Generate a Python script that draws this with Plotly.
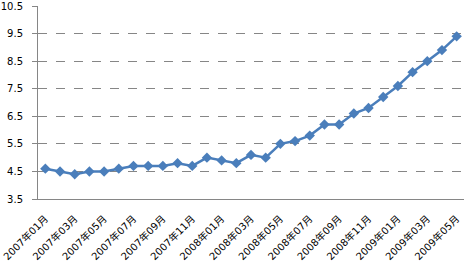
import plotly.graph_objects as go

months = ["2007年01月","2007年02月","2007年03月","2007年04月","2007年05月","2007年06月",
          "2007年07月","2007年08月","2007年09月","2007年10月","2007年11月","2007年12月",
          "2008年01月","2008年02月","2008年03月","2008年04月","2008年05月","2008年06月",
          "2008年07月","2008年08月","2008年09月","2008年10月","2008年11月","2008年12月",
          "2009年01月","2009年02月","2009年03月","2009年04月","2009年05月"]
values = [4.6,4.5,4.4,4.5,4.5,4.6,4.7,4.7,4.7,4.8,4.7,5.0,
          4.9,4.8,5.1,5.0,5.5,5.6,5.8,6.2,6.2,6.6,6.8,7.2,
          7.6,8.1,8.5,8.9,9.4]
y_ticks = [3.5, 4.5, 5.5, 6.5, 7.5, 8.5, 9.5, 10.5]
label_months = months[::2]
boundary_vals = [i - 0.5 for i in range(0, len(months), 2)] + [len(months) - 0.5]

font = dict(family="DejaVu Sans, Noto Sans CJK SC", size=10, color="#000000")

fig = go.Figure()
fig.add_trace(go.Scatter(
    x=months, y=values, mode="lines+markers",
    line=dict(color="#4A7EBB", width=2.5),
    marker=dict(symbol="diamond", size=8, color="#4A7EBB"),
    showlegend=False, cliponaxis=False,
))
fig.update_layout(
    width=465, height=262,
    margin=dict(l=38, r=1, t=6, b=63, autoexpand=False),
    paper_bgcolor="white", plot_bgcolor="white",
    font=font,
    xaxis=dict(type="category", categoryorder="array", categoryarray=months,
               range=[-0.5, len(months) - 0.5], automargin=False,
               tickmode="array", tickvals=label_months, ticktext=label_months,
               tickangle=-45, ticks="", showgrid=False, ticklabelstandoff=9,
               ticklabeloverflow="allow",
               showline=True, linecolor="#868686", linewidth=1, tickfont=font),
    xaxis2=dict(overlaying="x", anchor="y", type="linear",
                range=[-0.5, len(months) - 0.5], automargin=False,
                tickmode="array", tickvals=boundary_vals,
                ticks="outside", ticklen=5, tickcolor="#868686", tickwidth=1,
                showticklabels=False, showgrid=False, showline=False,
                side="bottom", zeroline=False),
    yaxis=dict(range=[3.5, 10.5], tickmode="array", tickvals=y_ticks,
               ticktext=[f"{v:.1f}" for v in y_ticks], automargin=False,
               ticklabeloverflow="allow", ticklabelstandoff=7,
               showgrid=True, gridcolor="#868686", griddash="dash", gridwidth=1,
               showline=True, linecolor="#868686", linewidth=1,
               ticks="outside", ticklen=5, tickcolor="#868686",
               zeroline=False, tickfont=font),
)
fig.write_html("out.html")
